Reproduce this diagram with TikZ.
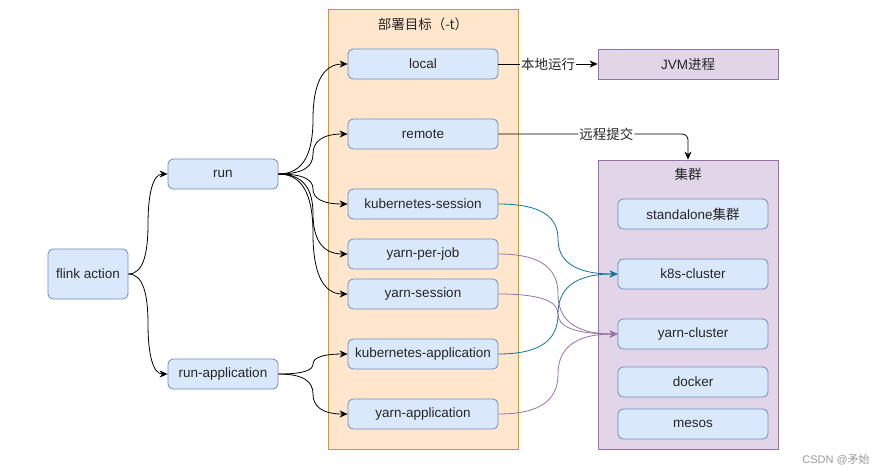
\documentclass[tikz,border=0pt]{standalone}
\usepackage{fontspec}
\setmainfont{Liberation Sans}
\newfontfamily\cjk{Noto Sans CJK SC}
\usetikzlibrary{arrows.meta,calc}
\definecolor{boxfill}{HTML}{DAE8FC}
\definecolor{boxline}{HTML}{6C8EBF}
\definecolor{tgtfill}{HTML}{FFE6CC}
\definecolor{tgtline}{HTML}{D79B00}
\definecolor{clsfill}{HTML}{E1D5E7}
\definecolor{clsline}{HTML}{9673A6}
\definecolor{k8sline}{HTML}{10739E}

\begin{document}
\begin{tikzpicture}[x=1pt,y=-1pt,
	every node/.style={font=\fontsize{13.5}{16}\selectfont, text=black!85},
	act/.style={draw=boxline, fill=boxfill, rounded corners=5pt, line width=0.8pt,
		minimum width=150pt, minimum height=30pt, inner sep=0pt},
	grp/.style={line width=0.8pt, inner sep=0pt},
	flow/.style={-{Stealth[length=8pt,width=7pt,inset=2.5pt]}, line width=0.8pt},
	sbend/.style={to path={let \p1=(\tikztostart), \p2=(\tikztotarget) in
		.. controls (0.625*\x1+0.375*\x2,\y1) and (0.5*\x1+0.5*\x2,0.8*\y1+0.2*\y2)
		.. (0.5*\x1+0.5*\x2,0.5*\y1+0.5*\y2)
		.. controls (0.5*\x1+0.5*\x2,0.2*\y1+0.8*\y2) and (0.375*\x1+0.625*\x2,\y2)
		.. (\tikztotarget) \tikztonodes}},
	elbl/.style={fill=white, inner sep=1pt}]
		\useasboundingbox (0,0) rectangle (885,475);
		% groups
		\node[grp, draw=tgtline, fill=tgtfill, minimum width=190pt, minimum height=440pt] (target) at (423,229) {};
		\node (targettitle) at (423,24) {\cjk 部署目标（-t）};
		\node[grp, draw=clsline, fill=clsfill, minimum width=180pt, minimum height=289pt] (cluster) at (688,304.5) {};
		\node (clustertitle) at (688,174) {\cjk 集群};
		\node[grp, draw=clsline, fill=clsfill, minimum width=180pt, minimum height=30pt] (jvm) at (688,64) {JVM{\cjk 进程}};
		% actions
		\node[act, minimum width=80pt, minimum height=50pt] (flink) at (88,274) {flink action};
		\node[act, minimum width=110pt] (run) at (223,174) {run};
		\node[act, minimum width=110pt] (runapp) at (223,374) {run-application};
		% targets
		\node[act] (local) at (423,64) {local};
		\node[act] (remote) at (423,134) {remote};
		\node[act] (ksess) at (423,204) {kubernetes-session};
		\node[act] (yjob) at (423,254) {yarn-per-job};
		\node[act] (ysess) at (423,294) {yarn-session};
		\node[act] (kapp) at (423,354) {kubernetes-application};
		\node[act] (yapp) at (423,414) {yarn-application};
		% clusters
		\node[act] (standalone) at (693,214) {standalone{\cjk 集群}};
		\node[act] (k8s) at (693,274) {k8s-cluster};
		\node[act] (yarn) at (693,334) {yarn-cluster};
		\node[act] (docker) at (693,382) {docker};
		\node[act] (mesos) at (693,424) {mesos};
		% collegamenti
		\draw[flow] (flink.east) to[sbend] (run.west);
		\draw[flow] (flink.east) to[sbend] (runapp.west);
		\foreach \t in {local,remote,ksess,yjob,ysess}
			\draw[flow] (run.east) to[sbend] (\t.west);
		\foreach \t in {kapp,yapp}
			\draw[flow] (runapp.east) to[sbend] (\t.west);
		\draw[flow] (local.east) -- node[elbl] {\cjk 本地运行} (jvm.west);
		\draw[flow, rounded corners=6pt] (remote.east) -- node[elbl, pos=0.57] {\cjk 远程提交} (remote.east -| cluster.north) -- (cluster.north);
		\foreach \t in {ksess,kapp}
			\draw[flow, draw=k8sline] (\t.east) to[sbend] (k8s.west);
		\foreach \t in {yjob,ysess,yapp}
			\draw[flow, draw=clsline] (\t.east) to[sbend] (yarn.west);
		\node[text=black!40, font=\fontsize{11}{13}\selectfont] (mark) at (836,460) {CSDN @{\cjk 矛始}};
	\end{tikzpicture}
\end{document}
